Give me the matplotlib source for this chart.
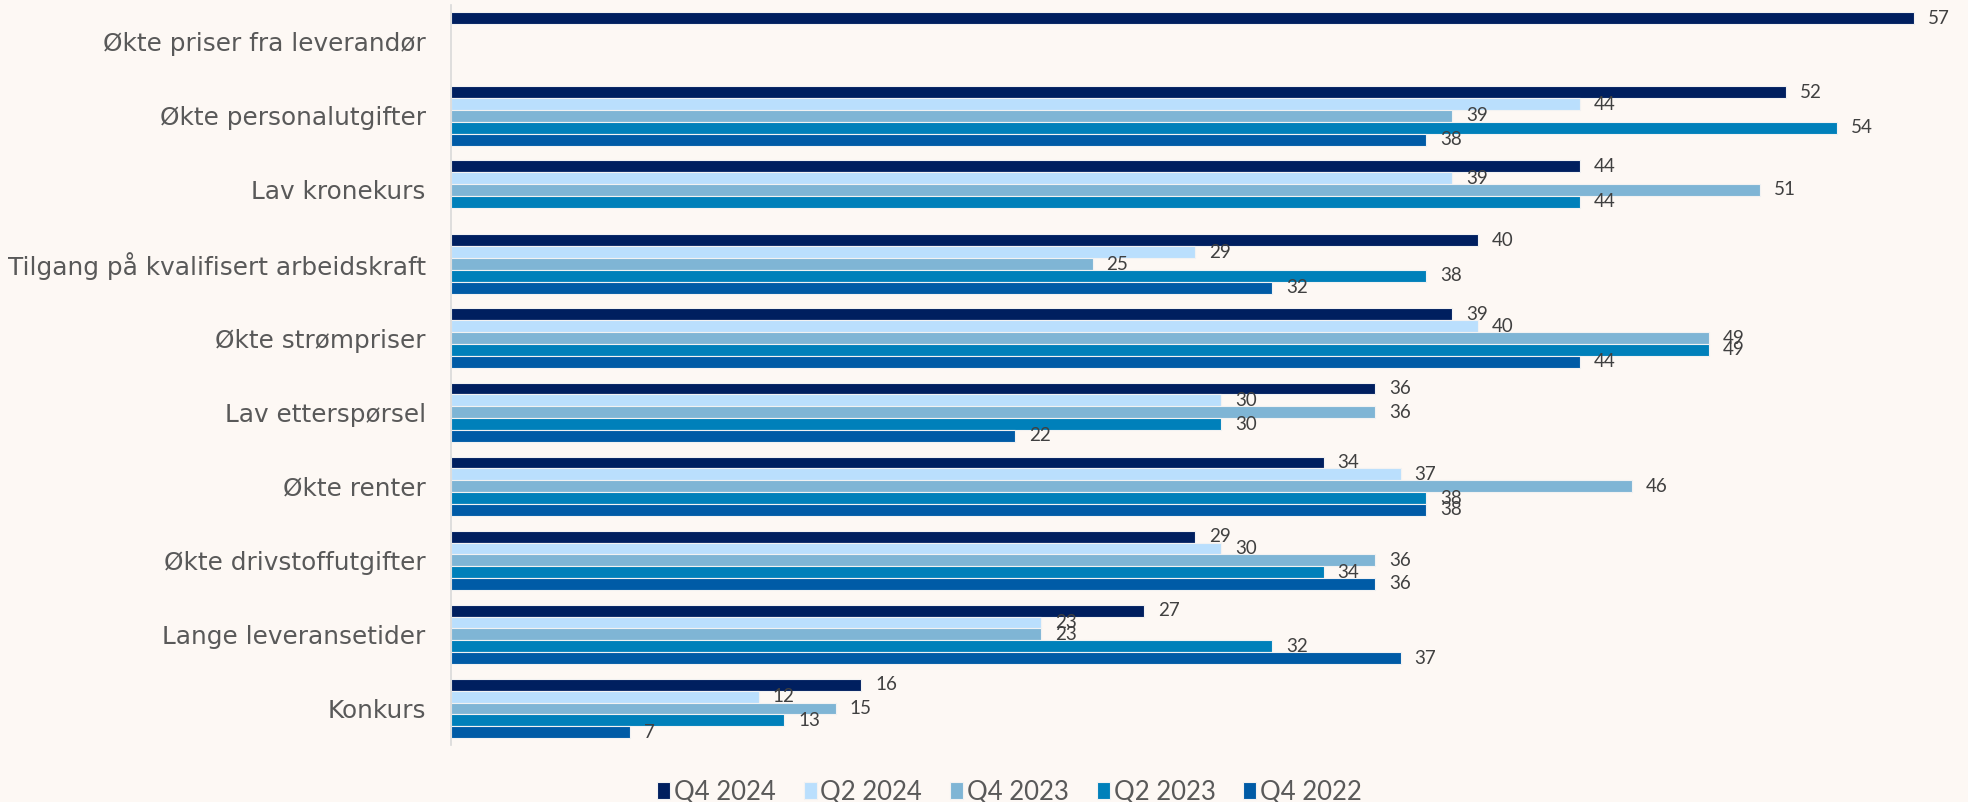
import numpy as np
import matplotlib
matplotlib.use('Agg')
from matplotlib import pyplot as plt

# categories, top to bottom
categories = [
    'Økte priser fra leverandør',
    'Økte personalutgifter',
    'Lav kronekurs',
    'Tilgang på kvalifisert arbeidskraft',
    'Økte strømpriser',
    'Lav etterspørsel',
    'Økte renter',
    'Økte drivstoffutgifter',
    'Lange leveransetider',
    'Konkurs',
]

series_names = ['Q4 2024', 'Q2 2024', 'Q4 2023', 'Q2 2023', 'Q4 2022']
nan = np.nan
q4_2024 = [57, 52, 44, 40, 39, 36, 34, 29, 27, 16]
q2_2024 = [nan, 44, 39, 29, 40, 30, 37, 30, 23, 12]
q4_2023 = [nan, 39, 51, 25, 49, 36, 46, 36, 23, 15]
q2_2023 = [nan, 54, 44, 38, 49, 30, 38, 34, 32, 13]
q4_2022 = [nan, 38, nan, 32, 44, 22, 38, 36, 37, 7]
series = [q4_2024, q2_2024, q4_2023, q2_2023, q4_2022]

colors = ['#001F5F', '#BADFFD', '#7FB5D5', '#0080BA', '#005BA6']
bg = '#FDF8F4'

plt.rcParams['font.family'] = ['Lato', 'DejaVu Sans']

fig = plt.figure(figsize=(19.68, 8.02), dpi=100, facecolor=bg)
ax = fig.add_axes([0.229, 0.0705, 0.771, 0.9235])
ax.set_facecolor(bg)

y = np.arange(len(categories))
slot = 0.16
for i, (name, vals, c) in enumerate(zip(series_names, series, colors)):
    pos = y + (i - 2) * slot
    vals = np.array(vals, dtype=float)
    mask = ~np.isnan(vals)
    ax.barh(pos[mask], vals[mask], height=slot, color=c, edgecolor='#F2F2F2',
            linewidth=0.8, label=name)
    for p, v in zip(pos[mask], vals[mask]):
        ax.annotate(f'{int(v)}', xy=(v, p), xytext=(10, 0), textcoords='offset points',
                    va='center', ha='left', fontsize=13.5, color='#404040')

ax.set_xlim(0, 59.1)
ax.set_ylim(len(categories) - 0.5, -0.5)
ax.set_yticks(y)
ax.set_yticklabels(categories, fontsize=17.8, color='#595959', family='DejaVu Sans')
ax.tick_params(axis='y', length=0, pad=18)
ax.set_xticks([])
for s in ['top', 'right', 'bottom']:
    ax.spines[s].set_visible(False)
ax.spines['left'].set_color('#D9D9D9')
ax.spines['left'].set_linewidth(1.2)

leg = fig.legend(loc='lower center', bbox_to_anchor=(0.513, -0.032), ncol=5, frameon=False,
                 fontsize=18.5, handlelength=0.5, handleheight=0.6, handletextpad=0.15,
                 columnspacing=1.09)
for t in leg.get_texts():
    t.set_color('#595959')

fig.savefig('out.png', dpi=100, facecolor=bg)
